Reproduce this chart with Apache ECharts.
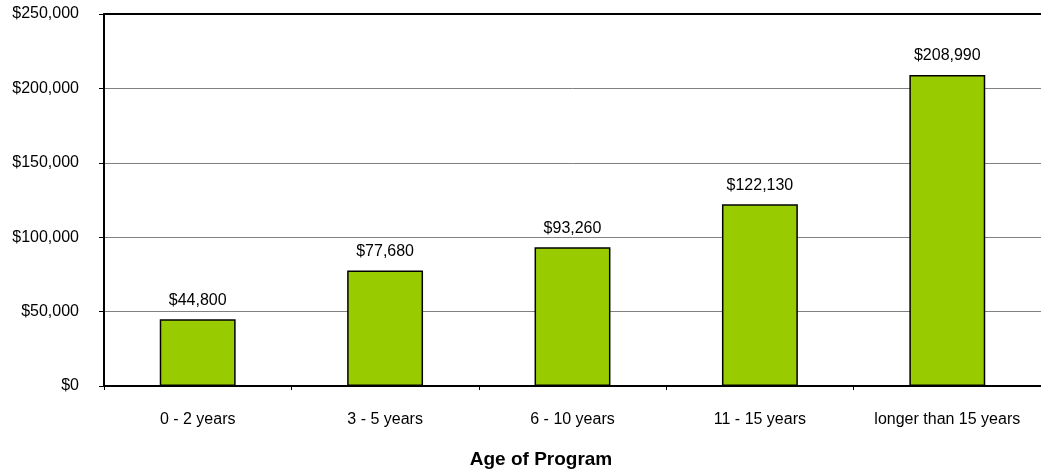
<!DOCTYPE html>
<html>
<head>
<meta charset="utf-8">
<script src="https://cdn.jsdelivr.net/npm/echarts@6/dist/echarts.min.js"></script>
<style>
html,body{margin:0;padding:0;background:#fff;}
#chart{width:1041px;height:475px;}
</style>
</head>
<body>
<div id="chart"></div>
<script>
// Program age groups and average values
const categories = ['0 - 2 years', '3 - 5 years', '6 - 10 years', '11 - 15 years', 'longer than 15 years'];
const values = [44800, 77680, 93260, 122130, 208990];
const axisTitle = 'Age of Program';

const font = 'Liberation Sans, Arial, sans-serif';
const fmtMoney = v => '$' + Math.round(v).toLocaleString('en-US');

const chart = echarts.init(document.getElementById('chart'));
chart.setOption({
  animation: false,
  grid: { left: 104, right: 0, top: 14, bottom: 89, containLabel: false, outerBoundsMode: 'none' },
  graphic: [{
    type: 'text',
    x: 541,
    y: 460,
    style: {
      text: axisTitle,
      fill: '#000',
      font: 'bold 19px ' + font,
      textAlign: 'center',
      textVerticalAlign: 'middle'
    }
  }],
  xAxis: [
    {
      type: 'category',
      data: categories,
      axisLine: { lineStyle: { color: '#000', width: 2 } },
      axisTick: { show: true, length: 4, interval: 0, lineStyle: { color: '#000' } },
      axisLabel: { color: '#000', fontFamily: font, fontSize: 16, margin: 26, interval: 0 }
    },
    {
      type: 'category',
      data: categories,
      position: 'top',
      axisLine: { lineStyle: { color: '#000', width: 2 } },
      axisTick: { show: false },
      axisLabel: { show: false }
    }
  ],
  yAxis: {
    type: 'value',
    min: 0,
    max: 250000,
    interval: 50000,
    axisLine: { show: true, lineStyle: { color: '#000', width: 2 } },
    axisTick: { show: true, length: 5, lineStyle: { color: '#000' } },
    axisLabel: { color: '#000', fontFamily: font, fontSize: 16, margin: 25, formatter: fmtMoney },
    splitLine: { lineStyle: { color: '#808080', width: 1 } }
  },
  series: [{
    type: 'bar',
    data: values,
    barWidth: '40.5%',
    itemStyle: { color: '#99CC00', borderColor: '#000', borderWidth: 1.5 },
    label: {
      show: true,
      position: 'top',
      distance: 11,
      color: '#000',
      fontFamily: font,
      fontSize: 16,
      formatter: p => fmtMoney(p.value)
    }
  }]
});
</script>
</body>
</html>
